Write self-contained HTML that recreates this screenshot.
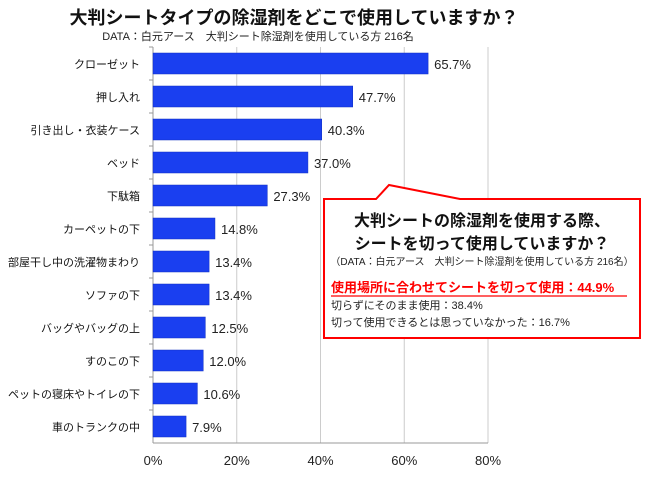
<!DOCTYPE html>
<html><head><meta charset="utf-8"><style>
body{margin:0;background:#fff;}
svg text{font-family:"Liberation Sans","Noto Sans CJK JP",sans-serif;}
</style></head><body>
<svg width="650" height="472" viewBox="0 0 650 472">
<text x="294" y="24" text-anchor="middle" font-size="18" font-weight="bold" fill="#111">大判シートタイプの除湿剤をどこで使用していますか？</text>
<text x="258" y="40" text-anchor="middle" font-size="11" fill="#222">DATA：白元アース　大判シート除湿剤を使用している方 216名</text>
<g id="grid"></g>
<g id="bars"></g>
<g id="xticks"></g>
<g>
<path d="M324 199 L376 199 L389 185 L460 199 L640 199 L640 338 L324 338 Z" fill="#fff" stroke="#f00" stroke-width="2"/>
<text x="482" y="226" text-anchor="middle" font-size="16" font-weight="bold" fill="#111">大判シートの除湿剤を使用する際、</text>
<text x="482" y="249" text-anchor="middle" font-size="16" font-weight="bold" fill="#111">シートを切って使用していますか？</text>
<text x="482" y="265" text-anchor="middle" font-size="10" fill="#222">（DATA：白元アース　大判シート除湿剤を使用している方 216名）</text>
<text x="331" y="292" font-size="13" font-weight="bold" fill="#f00">使用場所に合わせてシートを切って使用：44.9%</text>
<line x1="331" y1="296" x2="627" y2="296" stroke="#f00" stroke-width="1.2"/>
<text x="331" y="309" font-size="11" fill="#222">切らずにそのまま使用：38.4%</text>
<text x="331" y="326" font-size="11" fill="#222">切って使用できるとは思っていなかった：16.7%</text>
</g>
</svg>
<script>
const categories=["クローゼット","押し入れ","引き出し・衣装ケース","ベッド","下駄箱","カーペットの下","部屋干し中の洗濯物まわり","ソファの下","バッグやバッグの上","すのこの下","ペットの寝床やトイレの下","車のトランクの中"];
const values=[65.7,47.7,40.3,37.0,27.3,14.8,13.4,13.4,12.5,12.0,10.6,7.9];
const tickValues=[0,20,40,60,80];
const NS="http://www.w3.org/2000/svg";
const x0=153,x1=488,top0=47,band=33,maxV=80;
const xs=v=>x0+(v/maxV)*(x1-x0);
const yb=i=>top0+i*band;
function mk(t,a,p){const e=document.createElementNS(NS,t);for(const k in a)e.setAttribute(k,a[k]);p.appendChild(e);return e;}
const grid=document.getElementById('grid'),bars=document.getElementById('bars'),xt=document.getElementById('xticks');
const bottom=yb(categories.length);
tickValues.forEach(v=>{
 const l=mk('line',{x1:xs(v),x2:xs(v),y1:top0,y2:bottom,stroke:v===0?'#999':'#ccc','stroke-width':1},grid);
 
 
 const t=mk('text',{x:xs(v),y:bottom+22,'text-anchor':'middle','font-size':13,fill:'#222'},xt);
 t.textContent=v+'%';
 
 
});
const ax=mk('line',{x1:x0,x2:x1,y1:bottom,y2:bottom,stroke:'#999'},grid);


categories.forEach((c,i)=>{
 const y=yb(i);
 mk('line',{x1:x0-4,x2:x0,y1:y,y2:y,stroke:'#999'},grid);
 const r=mk('rect',{x:x0,y:y+6,width:xs(values[i])-x0,height:21,fill:'#1a3ff0',stroke:'#1030c0','stroke-width':0.5},bars);
 
 
 const lt=mk('text',{x:140,y:y+21,'text-anchor':'end','font-size':11,fill:'#111'},bars);
 lt.textContent=c;
 
 
 const vt=mk('text',{x:xs(values[i])+6,y:y+22,'font-size':13,fill:'#222'},bars);
 vt.textContent=values[i].toFixed(1)+'%';
 
 
});
</script>
</body></html>
